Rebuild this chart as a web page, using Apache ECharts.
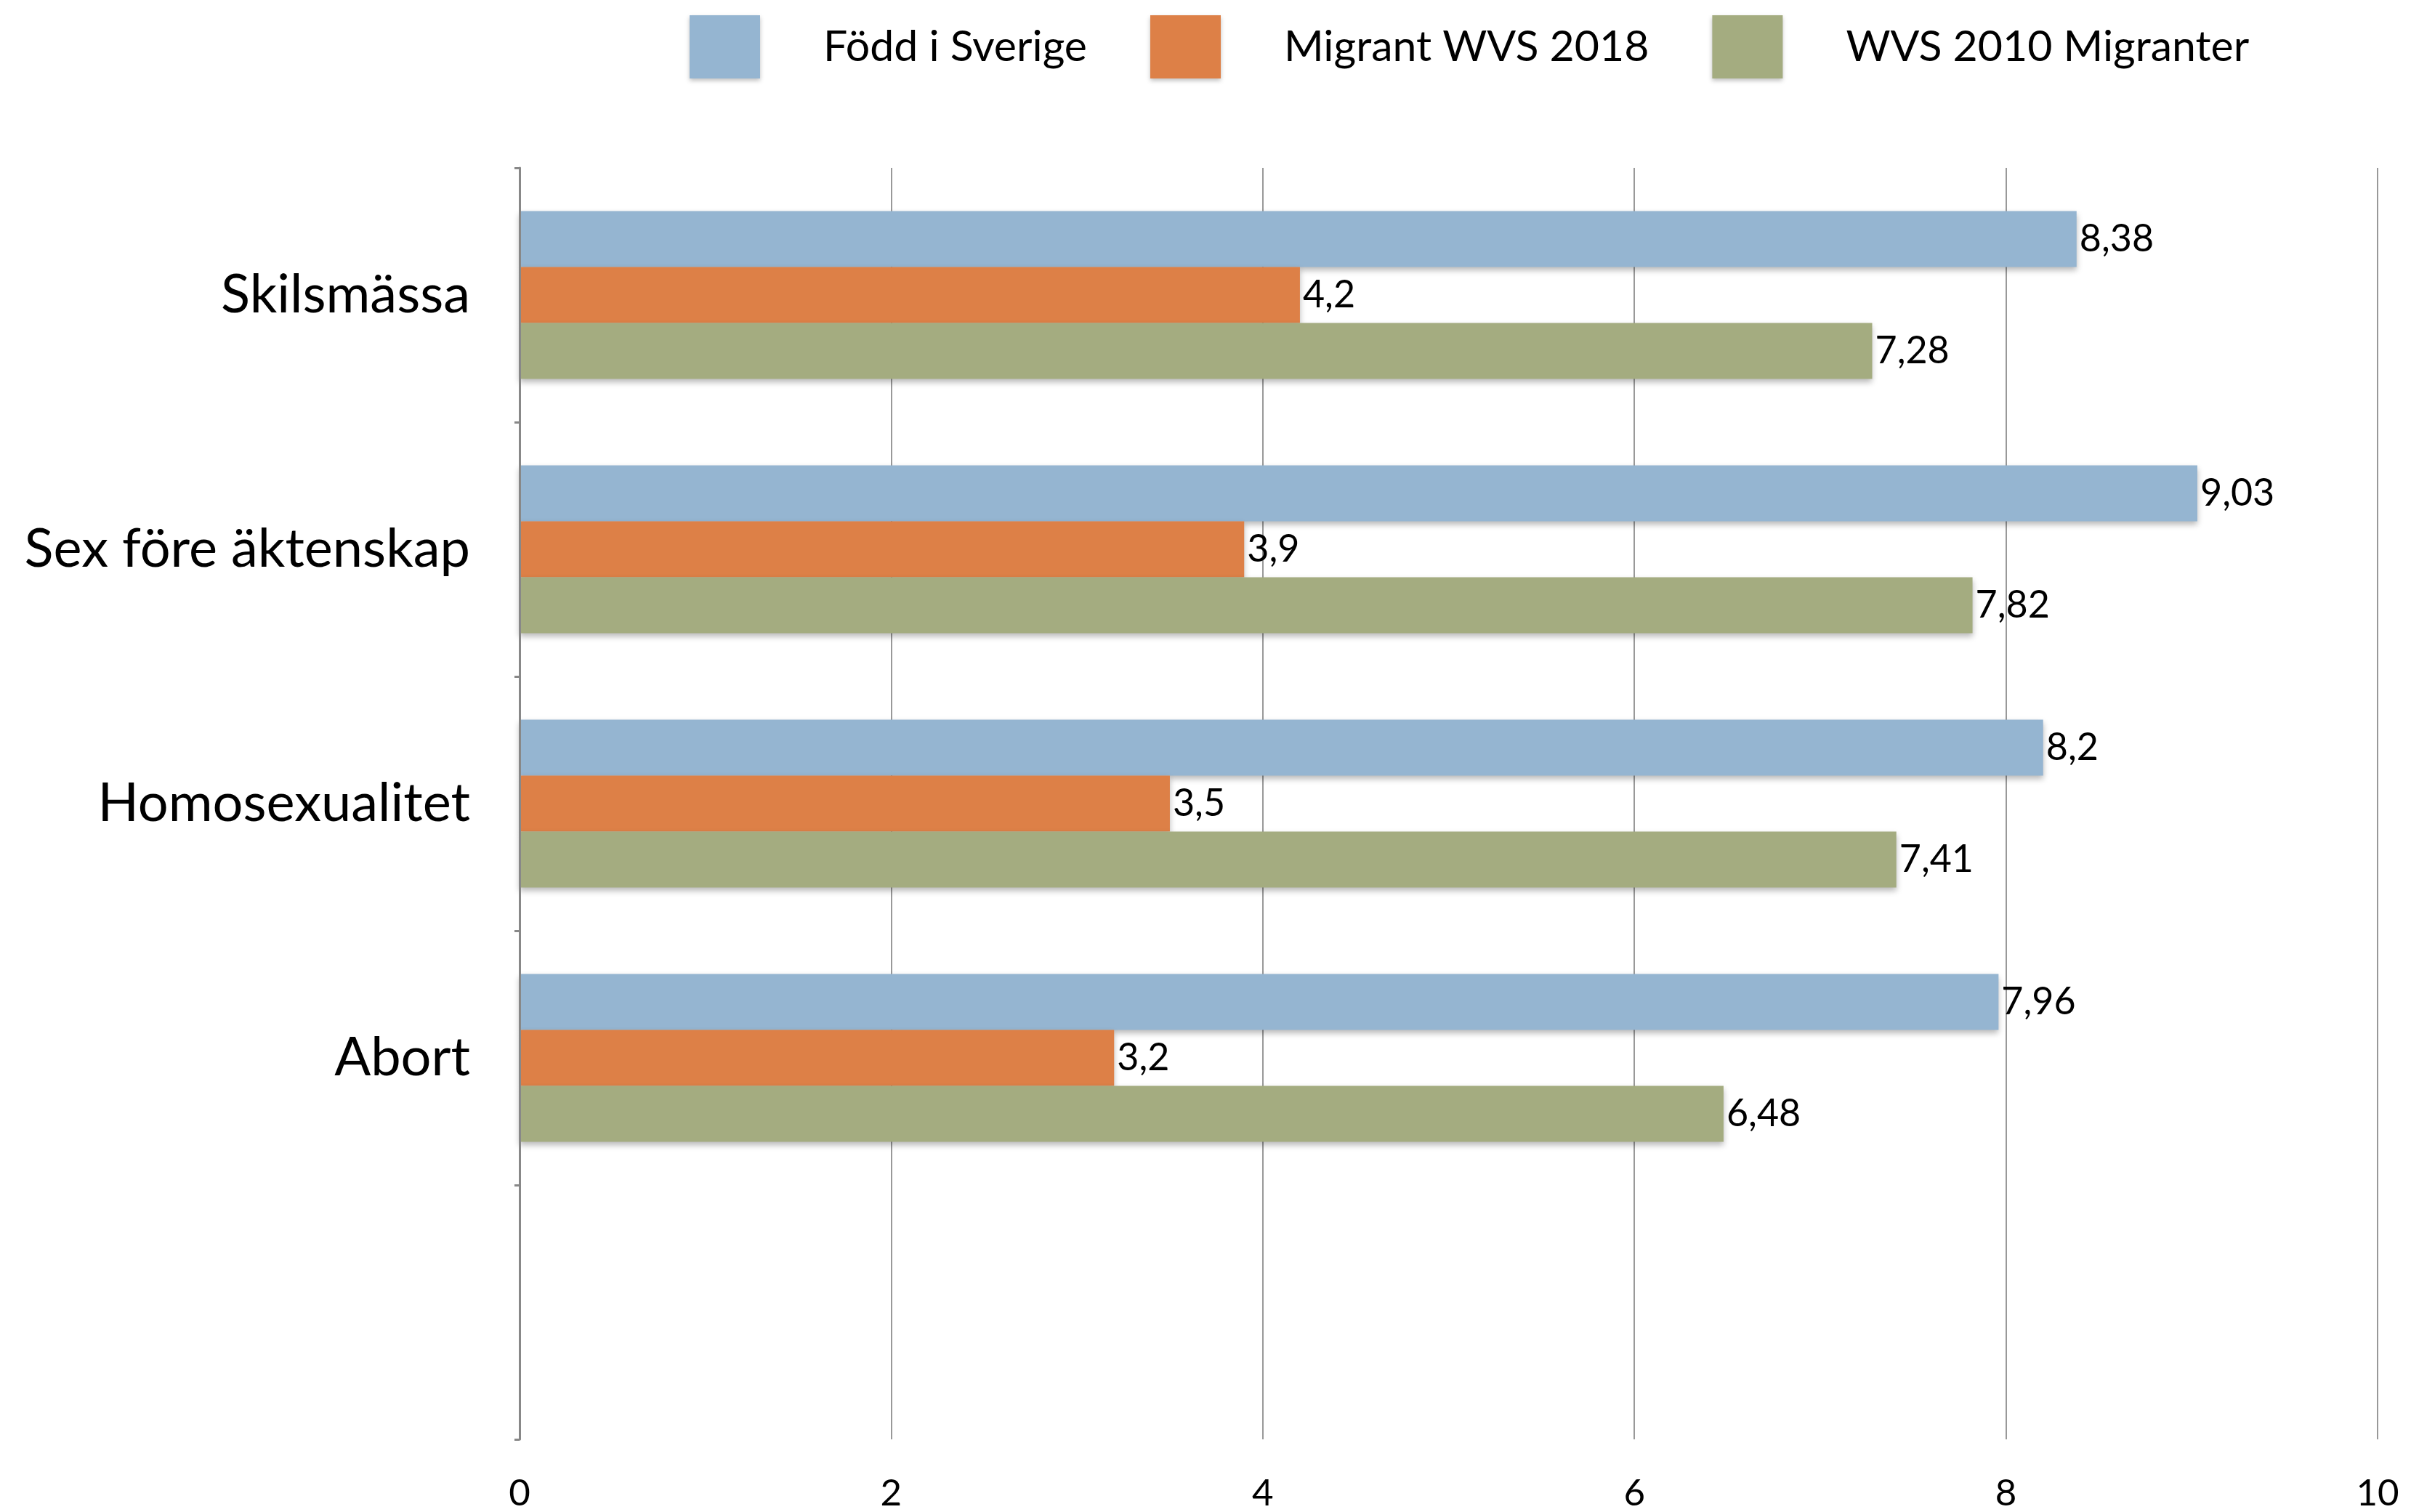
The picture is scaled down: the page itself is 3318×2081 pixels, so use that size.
<!DOCTYPE html>
<html>
<head>
<meta charset="utf-8">
<script src="https://cdn.jsdelivr.net/npm/echarts@6/dist/echarts.min.js"></script>
<style>
  html, body { margin: 0; padding: 0; background: #fff; }
  #chart { width: 3318px; height: 2081px; }
</style>
</head>
<body>
<div id="chart"></div>
<script>
// kategorier (sista är tom, som i originalet)
var categories = ['Skilsmässa', 'Sex före äktenskap', 'Homosexualitet', 'Abort', ''];
var seriesNames = ['Född i Sverige', 'Migrant WVS 2018', 'WVS 2010 Migranter'];
var foddSverige = [8.38, 9.03, 8.2, 7.96, '-'];
var migrant2018 = [4.2, 3.9, 3.5, 3.2, '-'];
var migranter2010 = [7.28, 7.82, 7.41, 6.48, '-'];
var xTicks = [0, 2, 4, 6, 8, 10];
var colors = ['#95b5d1', '#dd8047', '#a4ac80'];

var chart = echarts.init(document.getElementById('chart'));

var font = 'Lato, "Open Sans", sans-serif';

function makeSeries(name, data, color) {
  return {
    name: name,
    type: 'bar',
    data: data,
    barGap: '0%',
    barCategoryGap: '34%',
    itemStyle: {
      color: color,
      shadowColor: 'rgba(0,0,0,0.28)',
      shadowBlur: 8,
      shadowOffsetY: 4
    },
    label: {
      show: true,
      position: 'right',
      distance: 4,
      color: '#000',
      fontFamily: font,
      fontSize: 52,
      formatter: function (p) { return String(p.value).replace('.', ','); }
    }
  };
}

var option = {
  backgroundColor: '#fff',
  animation: false,
  color: colors,
  legend: {
    top: 16,
    left: 944,
    itemWidth: 97,
    itemHeight: 87,
    itemGap: 87,
    icon: 'rect',
    data: seriesNames,
    itemStyle: {
      shadowColor: 'rgba(0,0,0,0.25)',
      shadowBlur: 6,
      shadowOffsetY: 3
    },
    textStyle: {
      fontFamily: font,
      fontSize: 59,
      color: '#000',
      padding: [0, 0, 0, 82]
    }
  },
  grid: {
    left: 715,
    right: 46,
    top: 231,
    bottom: 95,
    containLabel: false
  },
  xAxis: {
    type: 'value',
    min: xTicks[0],
    max: xTicks[xTicks.length - 1],
    interval: 2,
    axisLine: { show: false },
    axisTick: { show: false },
    splitLine: { show: true, lineStyle: { color: '#999', width: 2 } },
    axisLabel: {
      fontFamily: font,
      fontSize: 51,
      color: '#000',
      margin: 49
    }
  },
  yAxis: {
    type: 'category',
    inverse: true,
    data: categories,
    axisLine: { show: true, lineStyle: { color: '#888', width: 3 } },
    axisTick: { show: true, length: 7, lineStyle: { color: '#888', width: 3 } },
    axisLabel: {
      fontFamily: font,
      fontSize: 74,
      color: '#000',
      margin: 68
    },
    z: 5
  },
  series: [
    makeSeries(seriesNames[0], foddSverige, colors[0]),
    makeSeries(seriesNames[1], migrant2018, colors[1]),
    makeSeries(seriesNames[2], migranter2010, colors[2])
  ]
};

chart.setOption(option);
</script>
</body>
</html>
